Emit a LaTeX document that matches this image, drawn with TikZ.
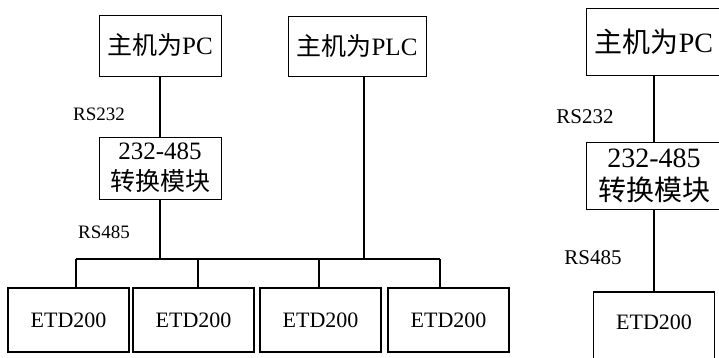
\documentclass[tikz,border=0pt]{standalone}
\usepackage{fontspec}
\setmainfont{Liberation Serif}
\newfontfamily\cjk{Noto Sans CJK SC}
\usetikzlibrary{positioning}

\begin{document}
\begin{tikzpicture}[x=1pt, y=-1pt,
      host/.style={rectangle, draw=black, line width=0.9pt, inner sep=0pt, align=center, font=\fontsize{25}{31}\selectfont},
      etd/.style={rectangle, draw=black, line width=1.5pt, inner sep=0pt, minimum width=121pt, minimum height=64pt, font=\fontsize{22}{24}\selectfont},
      tag/.style={inner sep=0pt, font=\fontsize{19}{21}\selectfont},
      link/.style={draw=black, line width=1.7pt}
    ]
      \useasboundingbox (0,0) rectangle (719,358);
      \clip (0,0) rectangle (719,358);

      % left: PC / PLC master
      \node[host, minimum width=122pt, minimum height=61pt] (pcA) at (160,45.5) {{\cjk 主机为}PC};
      \node[host, minimum width=138pt, minimum height=60pt] (plc) at (357,46) {{\cjk 主机为}PLC};
      \node[host, minimum width=122pt, minimum height=62pt] (convA) at (160,168) {232-485\\{\cjk 转换模块}};

      \node[etd] (etd1) at (68.5,320) {ETD200};
      \node[etd] (etd2) at (193.5,320) {ETD200};
      \node[etd] (etd3) at (320.5,320) {ETD200};
      \node[etd] (etd4) at (448.5,320) {ETD200};

      \node[tag] (rs232A) at (99,114) {RS232};
      \node[tag] (rs485A) at (104,232) {RS485};

      % bus taps
      \coordinate (t1) at (76,259);
      \coordinate (t2) at (198,259);
      \coordinate (t3) at (319,259);
      \coordinate (t4) at (440,259);

      \draw[link] (pcA) -- (convA);
      \draw[link] (convA) -- (convA.south |- t1);
      \draw[link] ([xshift=7pt]plc.south) -- ([xshift=7pt]plc.south |- t1);
      \draw[link] (t1) -- (t4);
      \foreach \i in {1,...,4} {
        \draw[link] (t\i) -- (t\i |- etd\i.north);
      }

      % right: single device
      \node[host, minimum width=136pt, minimum height=67pt, font=\fontsize{28}{33}\selectfont] (pcB) at (654,41.5) {{\cjk 主机为}PC};
      \node[host, minimum width=136pt, minimum height=67pt, font=\fontsize{28}{33}\selectfont] (convB) at (654,175.5) {232-485\\{\cjk 转换模块}};
      \node[etd, anchor=north, text height=38pt, text depth=40pt] (etdB) at (654,291) {ETD200};

      \node[tag, font=\fontsize{21}{23}\selectfont] (rs232B) at (585,117) {RS232};
      \node[tag, font=\fontsize{21}{23}\selectfont] (rs485B) at (593,258) {RS485};

      \draw[link] (pcB) -- (convB);
      \draw[link] (convB) -- (etdB);
\end{tikzpicture}
\end{document}
